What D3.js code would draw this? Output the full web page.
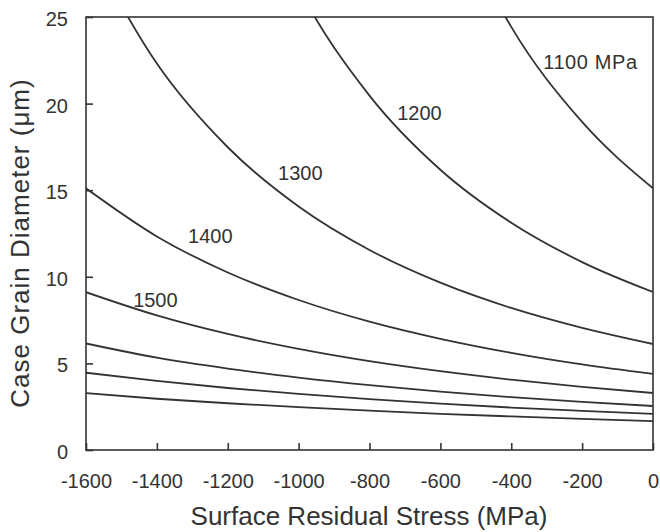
<!DOCTYPE html>
<html>
<head>
<meta charset="utf-8">
<script src="https://cdn.jsdelivr.net/npm/d3@7"></script>
<style>
  html, body { margin: 0; padding: 0; background: #fff; }
  svg { display: block; }
  text { font-family: "Liberation Sans", Arial, Helvetica, sans-serif; fill: #333; }
</style>
</head>
<body>
<svg id="chart" width="660" height="532"></svg>
<script>
// Surface residual stress (MPa) at which each curve is sampled
const stress = [-1600, -1400, -1200, -1000, -800, -600, -400, -200, 0];

// Case grain diameter (µm) for each strength level; null = not drawn
const d1100 = [null, null, null, null, 46.1, 32.73, 24.43, 18.94, 15.11];
const d1200 = [null, null, 36.25, 26.68, 20.46, 16.18, 13.12, 10.85, 9.12];
const d1300 = [29.47, 22.31, 17.48, 14.06, 11.55, 9.66, 8.20, 7.05, 6.12];
const d1400 = [15.11, 12.33, 10.25, 8.66, 7.41, 6.42, 5.61, 4.94, 4.39];
const d1500 = [9.11, 7.77, 6.70, 5.84, 5.13, 4.55, 4.06, 3.64, 3.29];
const d1600 = [6.15, 5.33, 4.70, 4.18, 3.74, 3.37, 3.05, 2.78, 2.54];
const d1700 = [4.46, 3.99, 3.58, 3.24, 2.94, 2.68, 2.45, 2.26, 2.08];
const d1800 = [3.28, 2.96, 2.70, 2.47, 2.27, 2.09, 1.94, 1.80, 1.67];

const curves = [d1100, d1200, d1300, d1400, d1500, d1600, d1700, d1800];

// Curve labels: text and the (stress, diameter) spot where each starts
const labelText   = ["1100 MPa", "1200", "1300", "1400", "1500"];
const labelStress = [-310, -722, -1058, -1312, -1467];
const labelDiam   = [22.0, 19.05, 15.59, 11.95, 8.26];

const xTicks = [-1600, -1400, -1200, -1000, -800, -600, -400, -200, 0];
const yTicks = [0, 5, 10, 15, 20, 25];

const width = 660, height = 532;
const margin = { top: 17, right: 7, bottom: 82, left: 86 };
const innerW = width - margin.left - margin.right;
const innerH = height - margin.top - margin.bottom;
const ink = "#333";

const svg = d3.select("#chart");
const g = svg.append("g").attr("transform", `translate(${margin.left},${margin.top})`);

const x = d3.scaleLinear().domain([-1600, 0]).range([0, innerW]);
const y = d3.scaleLinear().domain([0, 25]).range([innerH, 0]);

g.append("clipPath").attr("id", "plot-clip")
  .append("rect").attr("width", innerW).attr("height", innerH);

// Curves
const line = d3.line()
  .defined(d => d[1] != null)
  .x(d => x(d[0]))
  .y(d => y(d[1]))
  .curve(d3.curveMonotoneX);

g.append("g").attr("clip-path", "url(#plot-clip)")
  .selectAll("path")
  .data(curves)
  .join("path")
  .attr("d", vals => line(stress.map((s, i) => [s, vals[i]])))
  .attr("fill", "none")
  .attr("stroke", ink)
  .attr("stroke-width", 1.8)
  .attr("stroke-linejoin", "round");

// Frame
g.append("rect")
  .attr("width", innerW).attr("height", innerH)
  .attr("fill", "none").attr("stroke", ink).attr("stroke-width", 1.6);

// Axes with inward ticks; plain hyphen for negative numbers
const plain = d => String(d);
const xAxis = d3.axisBottom(x).tickValues(xTicks).tickSize(-7).tickPadding(24).tickFormat(plain);
const yAxis = d3.axisLeft(y).tickValues(yTicks).tickSize(-7).tickPadding(18).tickFormat(plain);

const gx = g.append("g").attr("transform", `translate(0,${innerH})`).call(xAxis);
const gy = g.append("g").call(yAxis);

[gx, gy].forEach(a => {
  a.select(".domain").remove();
  a.selectAll(".tick line").attr("stroke", ink).attr("stroke-width", 1.6);
  a.selectAll(".tick text")
    .attr("fill", ink)
    .style("font-size", "20px")
    .style("font-family", "'Liberation Sans', Arial, Helvetica, sans-serif");
});
gy.selectAll(".tick text").attr("dy", "0.42em");

// Curve labels
g.append("g").selectAll("text")
  .data(labelText)
  .join("text")
  .attr("x", (d, i) => x(labelStress[i]))
  .attr("y", (d, i) => y(labelDiam[i]))
  .style("font-size", "20px")
  .style("letter-spacing", (d, i) => i === 0 ? "0.6px" : null)
  .text(d => d);

// Axis titles
svg.append("text")
  .attr("x", 369)
  .attr("y", 525)
  .attr("text-anchor", "middle")
  .style("font-size", "26px")
  .text("Surface Residual Stress (MPa)");

svg.append("text")
  .attr("transform", "translate(29,243) rotate(-90)")
  .attr("text-anchor", "middle")
  .style("font-size", "26px")
  .style("letter-spacing", "1px")
  .text("Case Grain Diameter (μm)");
</script>
</body>
</html>
